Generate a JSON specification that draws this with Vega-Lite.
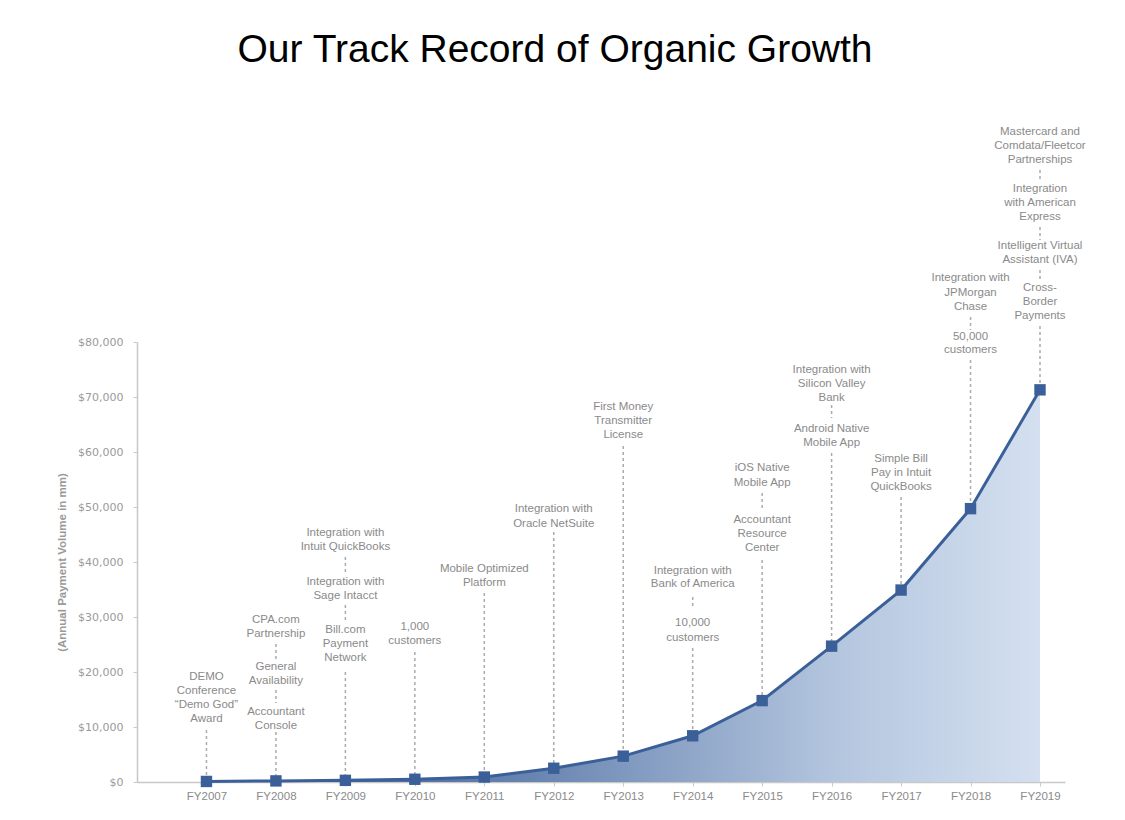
{
  "$schema": "https://vega.github.io/schema/vega-lite/v6.json",
  "autosize": {"type": "none"},
  "padding": {"left": 137, "top": 342, "right": 60, "bottom": 38},
  "width": 928,
  "height": 440,
  "background": "white",
  "config": {"view": {"stroke": null}, "font": "Liberation Sans"},
  "title": {
    "text": "Our Track Record of Organic Growth",
    "fontSize": 39,
    "fontWeight": "normal",
    "color": "#000000",
    "font": "Liberation Sans",
    "anchor": "middle",
    "dx": -46,
    "offset": 56
  },
  "datasets": {
    "series": [
      {"year": 2007, "v": 100},
      {"year": 2008, "v": 200},
      {"year": 2009, "v": 300},
      {"year": 2010, "v": 500},
      {"year": 2011, "v": 900},
      {"year": 2012, "v": 2500},
      {"year": 2013, "v": 4700},
      {"year": 2014, "v": 8400},
      {"year": 2015, "v": 14800},
      {"year": 2016, "v": 24700},
      {"year": 2017, "v": 34900},
      {"year": 2018, "v": 49700},
      {"year": 2019, "v": 71300}
    ],
    "notes": [
      {"year": 2007, "v": 19091, "t": "DEMO"},
      {"year": 2007, "v": 16545, "t": "Conference"},
      {"year": 2007, "v": 14000, "t": "\u201cDemo God\u201d"},
      {"year": 2007, "v": 11455, "t": "Award"},
      {"year": 2008, "v": 29455, "t": "CPA.com"},
      {"year": 2008, "v": 26909, "t": "Partnership"},
      {"year": 2008, "v": 20909, "t": "General"},
      {"year": 2008, "v": 18364, "t": "Availability"},
      {"year": 2008, "v": 12727, "t": "Accountant"},
      {"year": 2008, "v": 10182, "t": "Console"},
      {"year": 2009, "v": 45273, "t": "Integration with"},
      {"year": 2009, "v": 42727, "t": "Intuit QuickBooks"},
      {"year": 2009, "v": 36364, "t": "Integration with"},
      {"year": 2009, "v": 33818, "t": "Sage Intacct"},
      {"year": 2009, "v": 27636, "t": "Bill.com"},
      {"year": 2009, "v": 25091, "t": "Payment"},
      {"year": 2009, "v": 22545, "t": "Network"},
      {"year": 2010, "v": 28182, "t": "1,000"},
      {"year": 2010, "v": 25636, "t": "customers"},
      {"year": 2011, "v": 38727, "t": "Mobile Optimized"},
      {"year": 2011, "v": 36182, "t": "Platform"},
      {"year": 2012, "v": 49636, "t": "Integration with"},
      {"year": 2012, "v": 46909, "t": "Oracle NetSuite"},
      {"year": 2013, "v": 68182, "t": "First Money"},
      {"year": 2013, "v": 65636, "t": "Transmitter"},
      {"year": 2013, "v": 63091, "t": "License"},
      {"year": 2014, "v": 38364, "t": "Integration with"},
      {"year": 2014, "v": 36000, "t": "Bank of America"},
      {"year": 2014, "v": 28909, "t": "10,000"},
      {"year": 2014, "v": 26182, "t": "customers"},
      {"year": 2015, "v": 57091, "t": "iOS Native"},
      {"year": 2015, "v": 54364, "t": "Mobile App"},
      {"year": 2015, "v": 47636, "t": "Accountant"},
      {"year": 2015, "v": 45091, "t": "Resource"},
      {"year": 2015, "v": 42545, "t": "Center"},
      {"year": 2016, "v": 74909, "t": "Integration with"},
      {"year": 2016, "v": 72364, "t": "Silicon Valley"},
      {"year": 2016, "v": 69818, "t": "Bank"},
      {"year": 2016, "v": 64182, "t": "Android Native"},
      {"year": 2016, "v": 61636, "t": "Mobile App"},
      {"year": 2017, "v": 58727, "t": "Simple Bill"},
      {"year": 2017, "v": 56182, "t": "Pay in Intuit"},
      {"year": 2017, "v": 53636, "t": "QuickBooks"},
      {"year": 2018, "v": 91636, "t": "Integration with"},
      {"year": 2018, "v": 88909, "t": "JPMorgan"},
      {"year": 2018, "v": 86364, "t": "Chase"},
      {"year": 2018, "v": 80909, "t": "50,000"},
      {"year": 2018, "v": 78545, "t": "customers"},
      {"year": 2019, "v": 118182, "t": "Mastercard and"},
      {"year": 2019, "v": 115636, "t": "Comdata/Fleetcor"},
      {"year": 2019, "v": 113091, "t": "Partnerships"},
      {"year": 2019, "v": 107818, "t": "Integration"},
      {"year": 2019, "v": 105273, "t": "with American"},
      {"year": 2019, "v": 102727, "t": "Express"},
      {"year": 2019, "v": 97455, "t": "Intelligent Virtual"},
      {"year": 2019, "v": 94909, "t": "Assistant (IVA)"},
      {"year": 2019, "v": 89818, "t": "Cross-"},
      {"year": 2019, "v": 87273, "t": "Border"},
      {"year": 2019, "v": 84727, "t": "Payments"}
    ],
    "segs": [
      {"year": 2007, "v": 9455, "v2": 100},
      {"year": 2008, "v": 25091, "v2": 22182},
      {"year": 2008, "v": 16727, "v2": 14364},
      {"year": 2008, "v": 9091, "v2": 200},
      {"year": 2009, "v": 40909, "v2": 37636},
      {"year": 2009, "v": 32182, "v2": 29455},
      {"year": 2009, "v": 20000, "v2": 300},
      {"year": 2010, "v": 23636, "v2": 500},
      {"year": 2011, "v": 34364, "v2": 900},
      {"year": 2012, "v": 45455, "v2": 2500},
      {"year": 2013, "v": 61091, "v2": 4700},
      {"year": 2014, "v": 33636, "v2": 31636},
      {"year": 2014, "v": 24364, "v2": 8400},
      {"year": 2015, "v": 52545, "v2": 49818},
      {"year": 2015, "v": 40364, "v2": 14800},
      {"year": 2016, "v": 68545, "v2": 66182},
      {"year": 2016, "v": 59818, "v2": 24700},
      {"year": 2017, "v": 51818, "v2": 34900},
      {"year": 2018, "v": 84545, "v2": 82182},
      {"year": 2018, "v": 76727, "v2": 49700},
      {"year": 2019, "v": 111273, "v2": 109091},
      {"year": 2019, "v": 100909, "v2": 98545},
      {"year": 2019, "v": 93091, "v2": 90909},
      {"year": 2019, "v": 82909, "v2": 71300}
    ]
  },
  "encoding": {
    "x": {
      "field": "year",
      "type": "quantitative",
      "scale": {"domain": [2006, 2019.36], "nice": false, "zero": false},
      "axis": {
        "title": null,
        "values": [2007, 2008, 2009, 2010, 2011, 2012, 2013, 2014, 2015, 2016, 2017, 2018, 2019],
        "labelExpr": "'FY' + datum.value",
        "grid": false,
        "domainColor": "#c8c8c8",
        "domainWidth": 1.5,
        "tickColor": "#c8c8c8",
        "tickSize": 4,
        "labelColor": "#8a8a8a",
        "labelFontSize": 11.5,
        "labelPadding": 4,
        "labelFont": "Liberation Sans"
      }
    },
    "y": {
      "field": "v",
      "type": "quantitative",
      "scale": {"domain": [0, 80000], "nice": false},
      "axis": {
        "title": "(Annual Payment Volume in mm)",
        "titleFontSize": 11.5,
        "titleFontWeight": "bold",
        "titleColor": "#9a9a9a",
        "titleFont": "Liberation Sans",
        "titlePadding": 10,
        "values": [0, 10000, 20000, 30000, 40000, 50000, 60000, 70000, 80000],
        "format": "$,.0f",
        "grid": false,
        "domainColor": "#c8c8c8",
        "domainWidth": 1.5,
        "tickColor": "#c8c8c8",
        "tickSize": 4,
        "labelColor": "#9a9a9a",
        "labelFontSize": 11,
        "labelPadding": 10,
        "labelFont": "DejaVu Sans"
      }
    }
  },
  "layer": [
    {
      "data": {"name": "series"},
      "mark": {
        "type": "area",
        "color": {
          "gradient": "linear",
          "x1": 0, "y1": 0, "x2": 1, "y2": 0,
          "stops": [
            {"offset": 0, "color": "#2c5290"},
            {"offset": 0.4, "color": "#6a86b2"},
            {"offset": 0.75, "color": "#b3c5de"},
            {"offset": 1, "color": "#d4e0f0"}
          ]
        }
      }
    },
    {
      "data": {"name": "segs"},
      "mark": {"type": "rule", "color": "#ababab", "strokeWidth": 1.5, "strokeDash": [3, 3]},
      "encoding": {"y2": {"field": "v2"}}
    },
    {
      "data": {"name": "series"},
      "mark": {"type": "line", "color": "#3b5f98", "strokeWidth": 3}
    },
    {
      "data": {"name": "series"},
      "mark": {"type": "point", "shape": "square", "filled": true, "size": 130, "color": "#3b5f98", "opacity": 1}
    },
    {
      "data": {"name": "notes"},
      "mark": {"type": "text", "font": "Liberation Sans", "fontSize": 11.5, "color": "#8a8a8a", "baseline": "middle", "align": "center"},
      "encoding": {"text": {"field": "t"}}
    }
  ]
}
